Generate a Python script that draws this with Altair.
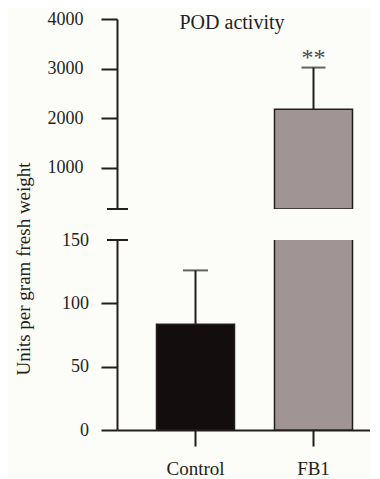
import altair as alt
import pandas as pd

# ---- data ----
groups = ["Control", "FB1"]
means = [83.5, 2180]
upper = [126, 3020]
sig = ["", "**"]
top_ticks = [1000, 2000, 3000, 4000]
bottom_ticks = [0, 50, 100, 150]
title_text = ["POD activity"]
y_title = "Units per gram fresh weight"

bar_colors = ["#140d0e", "#a09495"]
DARK = "#231f20"
FONT = "Liberation Serif"

TOP_MIN, TOP_MAX = 165, 4000
BOT_MIN, BOT_MAX = 0, 150
W, H = 253, 190

df = pd.DataFrame({"group": groups, "mean": means, "upper": upper, "sig": sig})
tdf = pd.DataFrame({"t": title_text})
one = pd.DataFrame({"a": [0]})

xscale = alt.Scale(domain=groups, paddingInner=0.339, paddingOuter=0.2415, align=0.693)
cscale = alt.Scale(domain=groups, range=bar_colors)

# ---------------- top panel ----------------
yt = alt.Scale(domain=[TOP_MIN, TOP_MAX], nice=False, zero=False)
top_axis = alt.Axis(values=top_ticks, title=None, labelPadding=18, format="d")
xt = alt.X("group:N", scale=xscale, axis=None)

bars_top = alt.Chart(df).transform_filter(f"datum.mean > {TOP_MIN}").mark_bar(
    clip=True, strokeWidth=1.5, stroke=DARK
).encode(
    x=xt,
    y=alt.Y("mean:Q", scale=yt, axis=top_axis),
    y2=alt.datum(TOP_MIN),
    color=alt.Color("group:N", scale=cscale, legend=None),
)
err_top = alt.Chart(df).mark_rule(clip=True, strokeWidth=2, color=DARK).encode(
    x=xt,
    y=alt.Y("mean:Q", scale=yt, axis=top_axis),
    y2="upper:Q",
)
cap_top = alt.Chart(df).mark_tick(clip=True, thickness=2, size=24, color=DARK).encode(
    x=xt,
    y=alt.Y("upper:Q", scale=yt, axis=top_axis),
)
stars = alt.Chart(df).mark_text(
    clip=True, font=FONT, fontSize=24, baseline="alphabetic", color="#4a4546", dy=-3
).encode(
    x=xt,
    y=alt.Y("upper:Q", scale=yt, axis=top_axis),
    text="sig:N",
)
title_mark = alt.Chart(tdf).mark_text(
    font=FONT, fontSize=20, baseline="alphabetic", align="center", color=DARK
).encode(x=alt.value(115), y=alt.value(10), text="t:N")
break_top = alt.Chart(one).mark_rule(strokeWidth=2, color=DARK).encode(
    x=alt.value(-10), x2=alt.value(11), y=alt.value(H)
)

top = alt.layer(bars_top, err_top, cap_top, stars, title_mark, break_top).properties(width=W, height=H)

# ---------------- bottom panel ----------------
yb = alt.Scale(domain=[BOT_MIN, BOT_MAX], nice=False)
bottom_axis = alt.Axis(
    values=bottom_ticks,
    format="d",
    title=y_title,
    titleX=-87.5,
    titleY=28.5,
    titleAngle=270,
    titleAlign="center",
    titleBaseline="alphabetic",
    labelPadding=12.5,
    tickOpacity={"condition": {"test": "datum.value == 150", "value": 0}, "value": 1},
)
xb = alt.X("group:N", scale=xscale, axis=alt.Axis(title=None, labelAngle=0, labelPadding=13, labelFontSize=19))

bars_bot = alt.Chart(df).mark_bar(clip=True, strokeWidth=1.5, stroke=DARK).encode(
    x=xb,
    y=alt.Y("mean:Q", scale=yb, axis=bottom_axis),
    color=alt.Color("group:N", scale=cscale, legend=None),
)
err_bot = alt.Chart(df).mark_rule(clip=True, strokeWidth=2, color=DARK).encode(
    x=xb,
    y=alt.Y("mean:Q", scale=yb, axis=bottom_axis),
    y2="upper:Q",
)
cap_bot = alt.Chart(df).mark_tick(clip=True, thickness=2, size=25, color=DARK).encode(
    x=xb,
    y=alt.Y("upper:Q", scale=yb, axis=bottom_axis),
)
break_bot = alt.Chart(one).mark_rule(strokeWidth=2, color=DARK).encode(
    x=alt.value(-10), x2=alt.value(11), y=alt.value(0)
)

bottom = alt.layer(bars_bot, err_bot, cap_bot, break_bot).properties(width=W, height=H)

chart = (
    alt.vconcat(top, bottom, spacing=31, bounds="flush")
    .properties(padding={"left": 6, "top": 2, "right": 0, "bottom": 0}, background="#fcfcf8")
    .configure_axis(
        domainColor=DARK,
        domainWidth=2,
        tickColor=DARK,
        tickWidth=2,
        tickSize=16,
        labelFont=FONT,
        labelFontSize=18,
        labelColor=DARK,
        titleFont=FONT,
        titleFontSize=19,
        titleFontWeight="normal",
        titleColor=DARK,
        grid=False,
    )
    .configure_view(strokeWidth=0)
)

chart.save("out.html", embed_options={"renderer": "svg", "actions": False})
